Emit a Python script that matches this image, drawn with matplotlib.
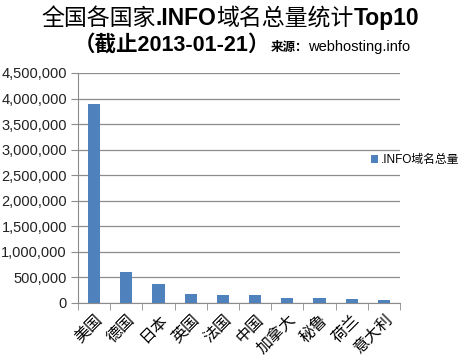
import matplotlib
matplotlib.use("Agg")
import matplotlib.pyplot as plt
from matplotlib.ticker import FuncFormatter, MultipleLocator

categories = ["美国", "德国", "日本", "英国", "法国", "中国", "加拿大", "秘鲁", "荷兰", "意大利"]
values = [3900000, 612000, 372000, 176000, 158000, 156000, 98000, 96000, 78000, 60000]
series_name = ".INFO域名总量"
title1 = [("全国各国家", "normal", 16.5), (".INFO", "bold", 16.5), ("域名总量统计", "normal", 16.5), ("Top10", "bold", 16.5)]
title2 = [("（截止2013-01-21）", "bold", 15.5), ("来源：", "bold", 9), ("webhosting.info", "normal", 10.5)]

FAM = ["Liberation Sans", "Noto Sans CJK SC", "DejaVu Sans"]
plt.rcParams["font.family"] = FAM

fig = plt.figure(figsize=(4.68, 3.61), dpi=100)
ax = fig.add_axes([78/468, 1-303/361, (400-78)/468, (303-73)/361])

x = list(range(len(categories)))
bars = ax.bar(x, values, width=0.38, color="#4F81BD", label=series_name, zorder=3)
ax.set_xlim(-0.5, len(categories)-0.5)
ax.set_ylim(0, 4500000)
ax.yaxis.set_major_locator(MultipleLocator(500000))
ax.yaxis.set_major_formatter(FuncFormatter(lambda v, p: f"{int(v):,}"))
ax.grid(axis="y", color="#8c8c8c", linewidth=0.9, zorder=0)
for s in ["top", "right"]:
    ax.spines[s].set_visible(False)
ax.spines["left"].set_color("#8c8c8c")
ax.spines["bottom"].set_color("#8c8c8c")
ax.tick_params(axis="y", length=5, color="#8c8c8c", labelsize=10.5, pad=3, labelcolor="#222222")
ax.set_xticks(x)
ax.set_xticklabels(categories, rotation=45, ha="right", rotation_mode="anchor",
                   fontsize=11.5, family=["Noto Sans CJK SC", "DejaVu Sans"])
ax.tick_params(axis="x", length=0, pad=6)
ax.set_xticks([i + 0.5 for i in range(-1, len(categories))], minor=True)
ax.tick_params(axis="x", which="minor", length=5, color="#8c8c8c", direction="out")

leg = fig.legend(handles=[bars], labels=[series_name], loc="center left",
                 bbox_to_anchor=(371/468, 1-160/361), frameon=False, borderpad=0,
                 borderaxespad=0,
                 handlelength=0.6, handleheight=0.6, handletextpad=0.25,
                 prop={"family": ["Liberation Sans", "Noto Sans CJK SC"], "size": 8.5})

renderer = fig.canvas.get_renderer()

def row(segments, cx, cy):
    texts = []
    widths = []
    for s, w, size in segments:
        t = fig.text(0, 0, s, fontsize=size, fontweight=w, va="baseline", ha="left",
                     family=FAM)
        bb = t.get_window_extent(renderer)
        texts.append(t)
        widths.append(bb.width)
    total = sum(widths)
    xpix = cx - total / 2
    for t, wd in zip(texts, widths):
        t.set_position((xpix / 468, 1 - cy / 361))
        xpix += wd

row(title1, 230, 25)
row(title2, 242, 51)

fig.savefig("out.png", dpi=100)
